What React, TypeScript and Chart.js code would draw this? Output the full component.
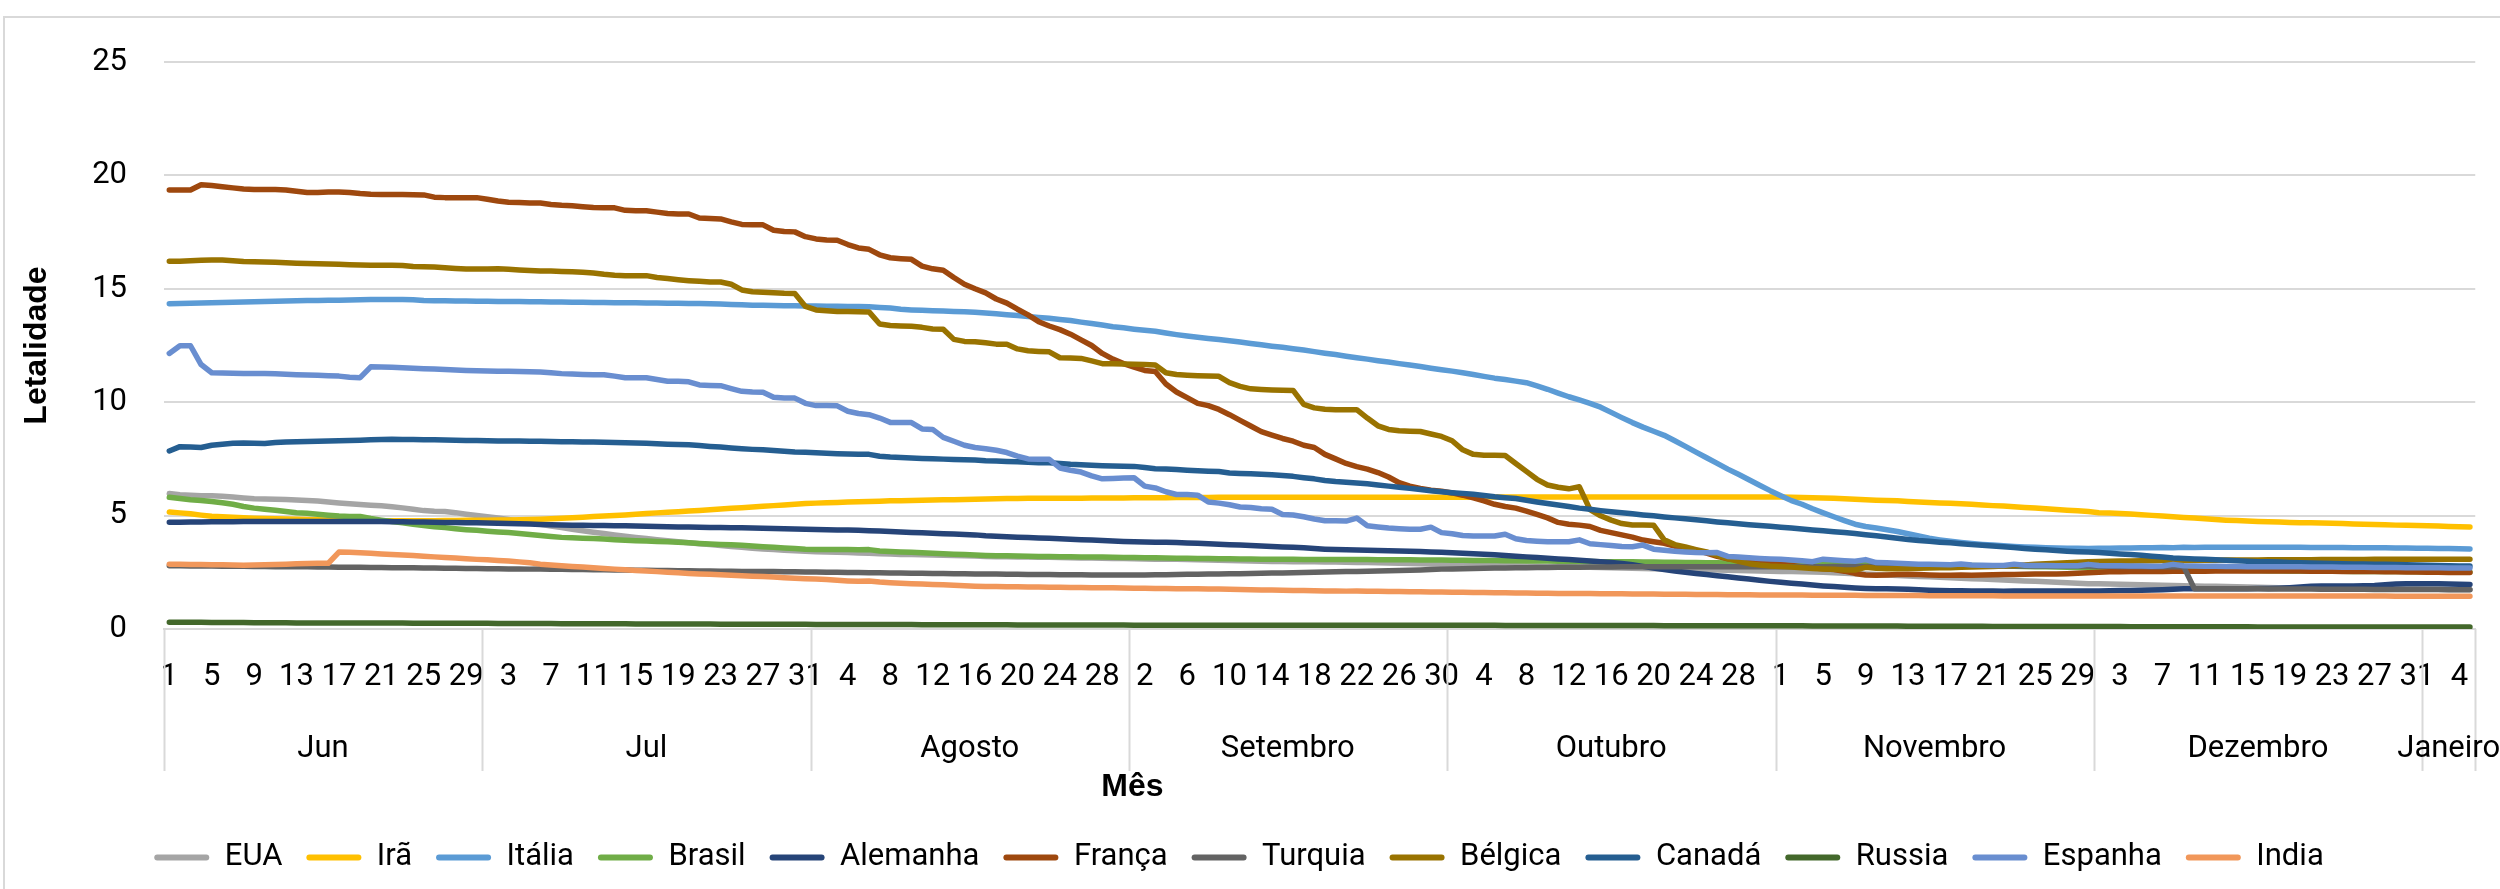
import React, { useEffect, useRef } from 'react';
import { Chart, registerables } from 'chart.js';

Chart.register(...registerables);

// ---------- DATA ----------
const months = ['Jun', 'Jul', 'Agosto', 'Setembro', 'Outubro', 'Novembro', 'Dezembro', 'Janeiro'];
const monthDays = [30, 31, 30, 30, 31, 30, 31, 5];
const yTicks = [0, 5, 10, 15, 20, 25];

const seriesNames = ['EUA', 'Irã', 'Itália', 'Brasil', 'Alemanha', 'França', 'Turquia', 'Bélgica', 'Canadá', 'Russia', 'Espanha', 'India'];
const seriesColors = ['#A5A5A5', '#FFC000', '#5B9BD5', '#70AD47', '#264478', '#9E480E', '#636363', '#997300', '#255E91', '#43682B', '#698ED0', '#F1975A'];

const eua = [
  5.97, 5.92, 5.9, 5.88, 5.87, 5.85, 5.82, 5.78, 5.74, 5.73, 5.72, 5.71, 5.69, 5.67, 5.64, 5.6, 5.56, 5.52, 5.49, 5.46, 5.43, 5.39, 5.34, 5.28, 5.22, 5.19, 5.18, 5.13, 5.06, 5.0,
  4.95, 4.89, 4.83, 4.76, 4.69, 4.62, 4.54, 4.47, 4.4, 4.33, 4.27, 4.21, 4.15, 4.09, 4.04, 3.99, 3.94, 3.89, 3.85, 3.8, 3.76, 3.72, 3.68, 3.64, 3.6, 3.56, 3.53, 3.5, 3.47, 3.45, 3.43,
  3.41, 3.4, 3.38, 3.37, 3.35, 3.34, 3.32, 3.31, 3.29, 3.28, 3.27, 3.26, 3.25, 3.24, 3.23, 3.22, 3.2, 3.19, 3.19, 3.18, 3.17, 3.16, 3.16, 3.15, 3.14, 3.13, 3.13, 3.12, 3.11, 3.11,
  3.1, 3.09, 3.08, 3.08, 3.07, 3.06, 3.05, 3.04, 3.03, 3.02, 3.01, 3.0, 2.99, 2.98, 2.98, 2.97, 2.97, 2.96, 2.95, 2.95, 2.94, 2.93, 2.93, 2.92, 2.91, 2.9, 2.89, 2.88, 2.87, 2.86,
  2.85, 2.84, 2.83, 2.82, 2.81, 2.8, 2.79, 2.78, 2.77, 2.76, 2.75, 2.74, 2.73, 2.72, 2.71, 2.7, 2.69, 2.68, 2.67, 2.66, 2.65, 2.64, 2.63, 2.62, 2.61, 2.6, 2.59, 2.58, 2.57, 2.56, 2.55,
  2.54, 2.53, 2.52, 2.51, 2.5, 2.48, 2.46, 2.44, 2.42, 2.4, 2.38, 2.36, 2.34, 2.32, 2.3, 2.28, 2.26, 2.24, 2.22, 2.2, 2.18, 2.16, 2.14, 2.12, 2.1, 2.08, 2.06, 2.04, 2.02, 2.0,
  1.99, 1.98, 1.97, 1.96, 1.95, 1.94, 1.93, 1.92, 1.91, 1.9, 1.89, 1.88, 1.87, 1.86, 1.85, 1.84, 1.83, 1.82, 1.82, 1.81, 1.81, 1.8, 1.8, 1.79, 1.79, 1.78, 1.78, 1.77, 1.77, 1.76, 1.76,
  1.75, 1.75, 1.74, 1.74, 1.74,
];

const ira = [
  5.16, 5.12, 5.08, 5.02, 4.97, 4.95, 4.93, 4.9, 4.88, 4.87, 4.86, 4.85, 4.84, 4.83, 4.82, 4.81, 4.8, 4.79, 4.78, 4.78, 4.77, 4.77, 4.77, 4.77, 4.77, 4.77, 4.78, 4.78, 4.79, 4.79,
  4.8, 4.81, 4.81, 4.82, 4.83, 4.84, 4.86, 4.88, 4.9, 4.93, 4.96, 4.98, 5.0, 5.03, 5.06, 5.09, 5.12, 5.15, 5.17, 5.2, 5.23, 5.26, 5.29, 5.32, 5.35, 5.38, 5.41, 5.44, 5.47, 5.5, 5.53,
  5.55, 5.57, 5.58, 5.6, 5.61, 5.62, 5.63, 5.65, 5.66, 5.67, 5.68, 5.69, 5.7, 5.7, 5.71, 5.72, 5.73, 5.74, 5.75, 5.75, 5.76, 5.76, 5.77, 5.77, 5.77, 5.77, 5.78, 5.78, 5.78, 5.78,
  5.79, 5.79, 5.79, 5.79, 5.8, 5.8, 5.8, 5.8, 5.81, 5.81, 5.81, 5.81, 5.81, 5.81, 5.81, 5.81, 5.81, 5.81, 5.81, 5.81, 5.81, 5.81, 5.81, 5.81, 5.81, 5.81, 5.81, 5.81, 5.81, 5.81,
  5.81, 5.81, 5.81, 5.82, 5.82, 5.82, 5.82, 5.82, 5.82, 5.82, 5.82, 5.82, 5.82, 5.82, 5.82, 5.82, 5.82, 5.82, 5.82, 5.82, 5.82, 5.82, 5.82, 5.82, 5.82, 5.82, 5.82, 5.82, 5.82, 5.82, 5.82,
  5.82, 5.81, 5.8, 5.79, 5.78, 5.76, 5.74, 5.72, 5.7, 5.68, 5.67, 5.65, 5.62, 5.6, 5.58, 5.56, 5.54, 5.52, 5.5, 5.47, 5.44, 5.42, 5.39, 5.36, 5.33, 5.3, 5.27, 5.24, 5.21, 5.18,
  5.13, 5.11, 5.09, 5.07, 5.04, 5.01, 4.98, 4.95, 4.92, 4.89, 4.86, 4.83, 4.8, 4.78, 4.76, 4.74, 4.73, 4.72, 4.7, 4.69, 4.68, 4.67, 4.66, 4.65, 4.63, 4.62, 4.61, 4.6, 4.58, 4.57, 4.56,
  4.55, 4.54, 4.52, 4.51, 4.5,
];

const italia = [
  14.34, 14.35, 14.36, 14.37, 14.39, 14.4, 14.41, 14.42, 14.43, 14.44, 14.45, 14.46, 14.47, 14.48, 14.48, 14.49, 14.5, 14.51, 14.52, 14.53, 14.53, 14.53, 14.53, 14.52, 14.48, 14.47, 14.47, 14.46, 14.46, 14.45,
  14.45, 14.44, 14.44, 14.44, 14.43, 14.43, 14.42, 14.42, 14.41, 14.41, 14.4, 14.4, 14.39, 14.39, 14.38, 14.37, 14.37, 14.36, 14.36, 14.35, 14.35, 14.34, 14.33, 14.31, 14.3, 14.28, 14.27, 14.26, 14.25, 14.25, 14.24,
  14.24, 14.23, 14.23, 14.22, 14.22, 14.21, 14.18, 14.15, 14.1, 14.07, 14.05, 14.03, 14.02, 14.0, 13.99, 13.97, 13.93, 13.9, 13.86, 13.82, 13.78, 13.74, 13.7, 13.65, 13.6, 13.53, 13.47, 13.4, 13.33, 13.28,
  13.22, 13.17, 13.13, 13.05, 12.98, 12.92, 12.86, 12.81, 12.76, 12.71, 12.65, 12.59, 12.53, 12.47, 12.42, 12.36, 12.3, 12.23, 12.16, 12.1, 12.03, 11.96, 11.9, 11.83, 11.77, 11.7, 11.64, 11.57, 11.5, 11.43,
  11.37, 11.3, 11.22, 11.14, 11.06, 11.0, 10.93, 10.86, 10.72, 10.57, 10.4, 10.24, 10.1, 9.95, 9.78, 9.55, 9.32, 9.1, 8.9, 8.72, 8.54, 8.3, 8.05, 7.8, 7.55, 7.3, 7.05, 6.82, 6.58, 6.34, 6.1,
  5.88, 5.66, 5.5, 5.3, 5.12, 4.95, 4.78, 4.62, 4.52, 4.45, 4.38, 4.3, 4.2, 4.1, 4.0, 3.93, 3.87, 3.82, 3.77, 3.73, 3.7, 3.67, 3.64, 3.62, 3.6, 3.58, 3.57, 3.56, 3.56, 3.55,
  3.56, 3.56, 3.57, 3.57, 3.58, 3.58, 3.59, 3.58, 3.6, 3.59, 3.6, 3.6, 3.6, 3.6, 3.6, 3.6, 3.6, 3.6, 3.6, 3.6, 3.59, 3.59, 3.59, 3.59, 3.58, 3.58, 3.58, 3.58, 3.57, 3.57, 3.56,
  3.56, 3.55, 3.55, 3.54, 3.53,
];

const brasil = [
  5.81, 5.75, 5.7, 5.67, 5.62, 5.57, 5.5, 5.4, 5.33, 5.28, 5.24, 5.18, 5.13, 5.1, 5.06, 5.02, 4.98, 4.96, 4.96, 4.87, 4.8, 4.74, 4.68, 4.62, 4.56, 4.51, 4.47, 4.42, 4.38, 4.35,
  4.31, 4.28, 4.25, 4.21, 4.17, 4.12, 4.08, 4.04, 4.02, 4.0, 3.99, 3.97, 3.94, 3.91, 3.89, 3.88, 3.86, 3.85, 3.83, 3.8, 3.77, 3.75, 3.73, 3.71, 3.69, 3.66, 3.63, 3.6, 3.57, 3.55, 3.52,
  3.51, 3.5, 3.5, 3.5, 3.49, 3.5, 3.44, 3.42, 3.4, 3.38, 3.36, 3.34, 3.32, 3.3, 3.28, 3.26, 3.24, 3.23, 3.23, 3.22, 3.21, 3.2, 3.2, 3.19, 3.19, 3.18, 3.17, 3.17, 3.16, 3.15,
  3.15, 3.14, 3.14, 3.13, 3.12, 3.12, 3.11, 3.11, 3.1, 3.1, 3.09, 3.09, 3.08, 3.08, 3.07, 3.07, 3.06, 3.06, 3.06, 3.06, 3.06, 3.06, 3.06, 3.05, 3.05, 3.05, 3.05, 3.04, 3.04, 3.04,
  3.03, 3.03, 3.02, 3.02, 3.02, 3.01, 3.01, 3.0, 3.0, 3.0, 2.99, 2.99, 2.98, 2.98, 2.97, 2.97, 2.96, 2.96, 2.95, 2.95, 2.94, 2.94, 2.93, 2.93, 2.92, 2.92, 2.91, 2.91, 2.9, 2.9, 2.89,
  2.89, 2.88, 2.88, 2.87, 2.87, 2.86, 2.86, 2.85, 2.85, 2.84, 2.84, 2.83, 2.83, 2.82, 2.82, 2.81, 2.81, 2.8, 2.8, 2.79, 2.78, 2.78, 2.77, 2.76, 2.75, 2.74, 2.73, 2.72, 2.71, 2.7,
  2.69, 2.68, 2.67, 2.66, 2.65, 2.64, 2.63, 2.62, 2.62, 2.61, 2.6, 2.6, 2.59, 2.59, 2.58, 2.58, 2.57, 2.57, 2.56, 2.56, 2.56, 2.55, 2.55, 2.55, 2.54, 2.54, 2.54, 2.53, 2.53, 2.53, 2.52,
  2.52, 2.52, 2.51, 2.51, 2.51,
];

const alemanha = [
  4.71, 4.71, 4.72, 4.72, 4.73, 4.73, 4.73, 4.74, 4.74, 4.74, 4.74, 4.74, 4.74, 4.74, 4.74, 4.74, 4.74, 4.74, 4.74, 4.74, 4.74, 4.73, 4.73, 4.72, 4.72, 4.71, 4.7, 4.7, 4.69, 4.68,
  4.67, 4.66, 4.65, 4.64, 4.63, 4.61, 4.6, 4.59, 4.58, 4.57, 4.56, 4.56, 4.55, 4.55, 4.54, 4.53, 4.52, 4.51, 4.5, 4.5, 4.49, 4.48, 4.47, 4.46, 4.46, 4.45, 4.44, 4.43, 4.42, 4.41, 4.4,
  4.39, 4.38, 4.37, 4.36, 4.35, 4.33, 4.32, 4.3, 4.28, 4.26, 4.24, 4.22, 4.2, 4.19, 4.17, 4.15, 4.11, 4.09, 4.07, 4.05, 4.03, 4.01, 4.0, 3.98, 3.96, 3.94, 3.92, 3.9, 3.88, 3.86,
  3.85, 3.84, 3.83, 3.82, 3.81, 3.79, 3.78, 3.76, 3.74, 3.72, 3.7, 3.68, 3.66, 3.64, 3.62, 3.6, 3.58, 3.55, 3.52, 3.5, 3.49, 3.48, 3.47, 3.46, 3.45, 3.44, 3.43, 3.42, 3.4, 3.38,
  3.36, 3.34, 3.32, 3.3, 3.27, 3.24, 3.21, 3.18, 3.15, 3.12, 3.09, 3.06, 3.03, 3.0, 2.97, 2.93, 2.89, 2.83, 2.76, 2.69, 2.62, 2.56, 2.5, 2.45, 2.4, 2.35, 2.3, 2.25, 2.2, 2.15, 2.1,
  2.06, 2.02, 1.98, 1.94, 1.9, 1.87, 1.84, 1.81, 1.79, 1.78, 1.77, 1.76, 1.75, 1.73, 1.71, 1.7, 1.69, 1.69, 1.68, 1.68, 1.68, 1.67, 1.67, 1.67, 1.67, 1.67, 1.67, 1.68, 1.68, 1.68,
  1.68, 1.69, 1.7, 1.7, 1.71, 1.72, 1.73, 1.75, 1.77, 1.78, 1.78, 1.78, 1.78, 1.78, 1.78, 1.79, 1.79, 1.8, 1.82, 1.85, 1.88, 1.9, 1.9, 1.9, 1.9, 1.91, 1.92, 1.95, 1.98, 2.0, 2.0,
  2.0, 1.99, 1.98, 1.97, 1.96,
];

const franca = [
  19.36, 19.36, 19.36, 19.59, 19.55, 19.5, 19.45, 19.4, 19.38, 19.38, 19.38, 19.36, 19.3, 19.25, 19.25, 19.27, 19.27, 19.25, 19.2, 19.17, 19.16, 19.16, 19.16, 19.15, 19.14, 19.04, 19.02, 19.02, 19.02, 19.02,
  18.95, 18.87, 18.82, 18.8, 18.78, 18.78, 18.72, 18.68, 18.66, 18.62, 18.58, 18.57, 18.57, 18.46, 18.44, 18.44, 18.38, 18.32, 18.3, 18.3, 18.12, 18.1, 18.08, 17.95, 17.84, 17.82, 17.82, 17.58, 17.53, 17.51, 17.3,
  17.2, 17.15, 17.14, 16.95, 16.8, 16.74, 16.5, 16.37, 16.33, 16.3, 16.0, 15.88, 15.82, 15.5, 15.2, 15.0, 14.82, 14.55, 14.37, 14.1, 13.85, 13.55, 13.36, 13.2, 13.0, 12.75, 12.5, 12.15, 11.9, 11.7,
  11.55, 11.4, 11.35, 10.8, 10.45, 10.2, 9.95, 9.85, 9.68, 9.45, 9.2, 8.95, 8.7, 8.55, 8.4, 8.28, 8.1, 8.0, 7.7, 7.5, 7.3, 7.16, 7.05, 6.9, 6.7, 6.45, 6.3, 6.2, 6.12, 6.07,
  6.0, 5.9, 5.78, 5.65, 5.5, 5.4, 5.33, 5.2, 5.05, 4.9, 4.7, 4.62, 4.58, 4.52, 4.35, 4.25, 4.15, 4.05, 3.92, 3.85, 3.78, 3.65, 3.55, 3.48, 3.35, 3.2, 3.1, 3.05, 3.0, 2.95, 2.9,
  2.86, 2.8, 2.75, 2.7, 2.66, 2.62, 2.55, 2.45, 2.38, 2.37, 2.38, 2.4, 2.41, 2.4, 2.38, 2.37, 2.37, 2.38, 2.37, 2.38, 2.39, 2.4, 2.4, 2.41, 2.42, 2.43, 2.43, 2.44, 2.46, 2.48,
  2.5, 2.52, 2.52, 2.53, 2.53, 2.54, 2.54, 2.55, 2.55, 2.55, 2.55, 2.56, 2.56, 2.56, 2.56, 2.56, 2.56, 2.56, 2.56, 2.56, 2.55, 2.55, 2.55, 2.54, 2.54, 2.53, 2.53, 2.52, 2.52, 2.51, 2.51,
  2.5, 2.5, 2.49, 2.49, 2.49,
];

const turquia = [
  2.79, 2.79, 2.78, 2.78, 2.78, 2.77, 2.77, 2.77, 2.76, 2.76, 2.75, 2.75, 2.74, 2.74, 2.73, 2.73, 2.72, 2.72, 2.72, 2.71, 2.71, 2.7, 2.7, 2.7, 2.69, 2.69, 2.68, 2.68, 2.67, 2.67,
  2.66, 2.66, 2.65, 2.65, 2.64, 2.64, 2.63, 2.63, 2.62, 2.62, 2.61, 2.61, 2.6, 2.6, 2.59, 2.59, 2.58, 2.58, 2.57, 2.57, 2.56, 2.56, 2.55, 2.55, 2.54, 2.54, 2.53, 2.53, 2.52, 2.52, 2.51,
  2.51, 2.5, 2.5, 2.49, 2.49, 2.48, 2.48, 2.47, 2.47, 2.46, 2.46, 2.45, 2.45, 2.44, 2.44, 2.43, 2.42, 2.42, 2.41, 2.41, 2.4, 2.4, 2.4, 2.39, 2.39, 2.39, 2.38, 2.38, 2.38, 2.38,
  2.38, 2.38, 2.39, 2.39, 2.4, 2.41, 2.41, 2.42, 2.43, 2.44, 2.44, 2.45, 2.46, 2.47, 2.47, 2.48, 2.49, 2.5, 2.51, 2.52, 2.53, 2.54, 2.55, 2.56, 2.57, 2.58, 2.59, 2.6, 2.62, 2.64,
  2.65, 2.66, 2.67, 2.68, 2.69, 2.69, 2.7, 2.7, 2.71, 2.71, 2.72, 2.72, 2.72, 2.73, 2.73, 2.73, 2.74, 2.74, 2.74, 2.74, 2.75, 2.75, 2.75, 2.75, 2.75, 2.75, 2.75, 2.75, 2.75, 2.75, 2.75,
  2.75, 2.75, 2.75, 2.75, 2.75, 2.76, 2.76, 2.76, 2.76, 2.76, 2.76, 2.77, 2.77, 2.77, 2.77, 2.77, 2.77, 2.78, 2.78, 2.78, 2.78, 2.78, 2.78, 2.78, 2.78, 2.78, 2.78, 2.78, 2.78, 2.78,
  2.77, 2.77, 2.76, 2.76, 2.76, 2.75, 2.75, 2.75, 2.75, 1.78, 1.78, 1.78, 1.77, 1.77, 1.77, 1.77, 1.76, 1.76, 1.76, 1.76, 1.76, 1.75, 1.75, 1.75, 1.75, 1.75, 1.74, 1.74, 1.74, 1.74, 1.74,
  1.74, 1.74, 1.73, 1.73, 1.73,
];

const belgica = [
  16.22, 16.22, 16.24, 16.26, 16.27, 16.27, 16.24, 16.2, 16.19, 16.18, 16.17, 16.15, 16.13, 16.12, 16.1, 16.09, 16.08, 16.06, 16.05, 16.04, 16.04, 16.04, 16.03, 15.98, 15.97, 15.96, 15.93, 15.9, 15.87, 15.87,
  15.87, 15.88, 15.86, 15.83, 15.81, 15.79, 15.78, 15.76, 15.75, 15.73, 15.7, 15.64, 15.6, 15.58, 15.58, 15.58, 15.5, 15.45, 15.4, 15.36, 15.33, 15.3, 15.3, 15.2, 14.95, 14.87, 14.85, 14.83, 14.8, 14.79, 14.22,
  14.07, 14.03, 14.0, 14.0, 13.99, 13.98, 13.45, 13.38, 13.36, 13.35, 13.3, 13.23, 13.22, 12.77, 12.68, 12.67, 12.62, 12.56, 12.56, 12.35, 12.27, 12.24, 12.22, 11.96, 11.95, 11.93, 11.82, 11.7, 11.69, 11.68,
  11.67, 11.66, 11.64, 11.3, 11.22, 11.19, 11.17, 11.15, 11.14, 10.86, 10.7, 10.59, 10.56, 10.54, 10.53, 10.52, 9.9, 9.75, 9.69, 9.67, 9.67, 9.67, 9.3, 8.96, 8.8, 8.74, 8.72, 8.71, 8.6, 8.49,
  8.3, 7.9, 7.7, 7.66, 7.66, 7.65, 7.3, 6.95, 6.6, 6.35, 6.25, 6.18, 6.27, 5.26, 4.99, 4.8, 4.65, 4.59, 4.59, 4.58, 3.93, 3.72, 3.62, 3.5, 3.4, 3.25, 3.1, 2.98, 2.88, 2.82, 2.78,
  2.76, 2.73, 2.7, 2.67, 2.65, 2.63, 2.6, 2.6, 2.72, 2.68, 2.66, 2.66, 2.67, 2.68, 2.69, 2.7, 2.7, 2.72, 2.73, 2.74, 2.76, 2.78, 2.8, 2.82, 2.85, 2.88, 2.9, 2.92, 2.94, 2.96,
  2.98, 2.99, 3.0, 3.0, 3.01, 3.01, 3.02, 3.02, 3.02, 3.03, 3.03, 3.03, 3.04, 3.04, 3.04, 3.04, 3.05, 3.05, 3.05, 3.05, 3.05, 3.06, 3.06, 3.06, 3.06, 3.06, 3.07, 3.07, 3.07, 3.07, 3.07,
  3.07, 3.07, 3.07, 3.08, 3.08,
];

const canada = [
  7.85, 8.04, 8.02, 8.0, 8.1, 8.15, 8.19, 8.2, 8.19, 8.18, 8.22, 8.25, 8.26, 8.27, 8.28, 8.29, 8.3, 8.31, 8.32, 8.34, 8.36, 8.37, 8.36, 8.35, 8.34, 8.34, 8.33, 8.32, 8.31, 8.31,
  8.3, 8.29, 8.29, 8.29, 8.28, 8.28, 8.27, 8.26, 8.26, 8.25, 8.24, 8.23, 8.22, 8.21, 8.2, 8.19, 8.17, 8.15, 8.14, 8.12, 8.09, 8.05, 8.02, 7.98, 7.95, 7.92, 7.9, 7.87, 7.84, 7.8, 7.79,
  7.77, 7.75, 7.73, 7.72, 7.71, 7.7, 7.62, 7.58, 7.56, 7.54, 7.52, 7.51, 7.49, 7.47, 7.46, 7.45, 7.42, 7.41, 7.39, 7.37, 7.35, 7.33, 7.33, 7.3, 7.26, 7.24, 7.22, 7.2, 7.19, 7.18,
  7.17, 7.12, 7.07, 7.05, 7.03, 7.0, 6.98, 6.96, 6.94, 6.88, 6.86, 6.84, 6.82, 6.8, 6.77, 6.73, 6.67, 6.62, 6.55, 6.5, 6.47, 6.44, 6.4, 6.35, 6.3, 6.25, 6.2, 6.15, 6.1, 6.05,
  6.01, 5.98, 5.94, 5.89, 5.83, 5.79, 5.75, 5.68, 5.6, 5.53, 5.47, 5.4, 5.33, 5.28, 5.22, 5.17, 5.13, 5.08, 5.03, 4.99, 4.94, 4.9, 4.86, 4.82, 4.77, 4.72, 4.68, 4.64, 4.6, 4.56, 4.53,
  4.49, 4.45, 4.41, 4.37, 4.33, 4.29, 4.25, 4.21, 4.16, 4.11, 4.06, 4.0, 3.95, 3.9, 3.87, 3.83, 3.8, 3.76, 3.72, 3.69, 3.66, 3.63, 3.59, 3.55, 3.52, 3.49, 3.46, 3.43, 3.41, 3.39,
  3.37, 3.34, 3.31, 3.28, 3.25, 3.21, 3.17, 3.13, 3.11, 3.09, 3.07, 3.05, 3.03, 3.01, 2.99, 2.97, 2.96, 2.95, 2.93, 2.92, 2.91, 2.9, 2.89, 2.88, 2.87, 2.87, 2.86, 2.85, 2.84, 2.83, 2.82,
  2.81, 2.8, 2.79, 2.78, 2.78,
];

const russia = [
  0.3, 0.3, 0.3, 0.3, 0.29, 0.29, 0.29, 0.29, 0.28, 0.28, 0.28, 0.28, 0.27, 0.27, 0.27, 0.27, 0.27, 0.26, 0.26, 0.26, 0.26, 0.26, 0.26, 0.25, 0.25, 0.25, 0.25, 0.25, 0.25, 0.25,
  0.25, 0.24, 0.24, 0.24, 0.24, 0.24, 0.24, 0.23, 0.23, 0.23, 0.23, 0.23, 0.23, 0.23, 0.22, 0.22, 0.22, 0.22, 0.22, 0.22, 0.22, 0.22, 0.21, 0.21, 0.21, 0.21, 0.21, 0.21, 0.21, 0.21, 0.21,
  0.2, 0.2, 0.2, 0.2, 0.2, 0.2, 0.2, 0.2, 0.2, 0.2, 0.19, 0.19, 0.19, 0.19, 0.19, 0.19, 0.19, 0.19, 0.19, 0.18, 0.18, 0.18, 0.18, 0.18, 0.18, 0.18, 0.18, 0.18, 0.18, 0.18,
  0.17, 0.17, 0.17, 0.17, 0.17, 0.17, 0.17, 0.17, 0.17, 0.17, 0.17, 0.17, 0.17, 0.16, 0.16, 0.16, 0.16, 0.16, 0.16, 0.16, 0.16, 0.16, 0.16, 0.16, 0.16, 0.16, 0.16, 0.16, 0.16, 0.16,
  0.16, 0.16, 0.16, 0.16, 0.16, 0.15, 0.15, 0.15, 0.15, 0.15, 0.15, 0.15, 0.15, 0.15, 0.15, 0.15, 0.15, 0.15, 0.15, 0.15, 0.14, 0.14, 0.14, 0.14, 0.14, 0.14, 0.14, 0.14, 0.14, 0.14, 0.14,
  0.14, 0.14, 0.14, 0.13, 0.13, 0.13, 0.13, 0.13, 0.13, 0.13, 0.13, 0.13, 0.12, 0.12, 0.12, 0.12, 0.12, 0.12, 0.12, 0.12, 0.11, 0.11, 0.11, 0.11, 0.11, 0.11, 0.11, 0.11, 0.11, 0.11,
  0.11, 0.11, 0.11, 0.1, 0.1, 0.1, 0.1, 0.1, 0.1, 0.1, 0.1, 0.1, 0.1, 0.1, 0.1, 0.09, 0.09, 0.09, 0.09, 0.09, 0.09, 0.09, 0.09, 0.09, 0.09, 0.09, 0.09, 0.09, 0.09, 0.09, 0.09,
  0.09, 0.09, 0.09, 0.09, 0.09,
];

const espanha = [
  12.15, 12.49, 12.49, 11.66, 11.3, 11.29, 11.28, 11.27, 11.27, 11.26, 11.25, 11.23, 11.21, 11.2, 11.19, 11.17, 11.15, 11.1, 11.08, 11.56, 11.55, 11.54, 11.52, 11.5, 11.48, 11.46, 11.44, 11.42, 11.4, 11.39,
  11.38, 11.37, 11.36, 11.35, 11.34, 11.33, 11.3, 11.26, 11.24, 11.22, 11.21, 11.21, 11.15, 11.08, 11.08, 11.08, 11.0, 10.92, 10.92, 10.9, 10.76, 10.74, 10.73, 10.6, 10.48, 10.45, 10.44, 10.22, 10.19, 10.18, 9.95,
  9.85, 9.85, 9.84, 9.6, 9.5, 9.45, 9.3, 9.11, 9.1, 9.1, 8.82, 8.8, 8.45, 8.28, 8.1, 8.0, 7.95, 7.88, 7.78, 7.62, 7.5, 7.49, 7.48, 7.1, 7.0, 6.92, 6.75, 6.62, 6.64, 6.66,
  6.67, 6.3, 6.22, 6.05, 5.93, 5.93, 5.9, 5.6, 5.55, 5.48, 5.38, 5.36, 5.3, 5.28, 5.05, 5.03, 4.95, 4.85, 4.77, 4.77, 4.76, 4.89, 4.55, 4.5, 4.45, 4.42, 4.4, 4.4, 4.49, 4.25,
  4.2, 4.12, 4.1, 4.1, 4.1, 4.18, 3.98, 3.9, 3.87, 3.85, 3.85, 3.85, 3.93, 3.76, 3.72, 3.68, 3.64, 3.63, 3.7, 3.52, 3.47, 3.43, 3.4, 3.37, 3.36, 3.37, 3.2, 3.17, 3.14, 3.11, 3.09,
  3.07, 3.04, 3.01, 2.97, 3.08, 3.04, 3.01, 2.99, 3.06, 2.93, 2.92, 2.9, 2.88, 2.86, 2.85, 2.84, 2.83, 2.87, 2.82, 2.81, 2.8, 2.8, 2.86, 2.81, 2.8, 2.8, 2.79, 2.79, 2.79, 2.85,
  2.8, 2.79, 2.79, 2.78, 2.78, 2.77, 2.78, 2.85, 2.79, 2.78, 2.77, 2.77, 2.76, 2.76, 2.75, 2.75, 2.75, 2.74, 2.74, 2.74, 2.73, 2.73, 2.73, 2.72, 2.72, 2.72, 2.71, 2.71, 2.71, 2.7, 2.7,
  2.7, 2.7, 2.69, 2.69, 2.69,
];

const india = [
  2.86, 2.85, 2.84, 2.84, 2.83, 2.83, 2.82, 2.81, 2.82, 2.83, 2.84, 2.86, 2.88, 2.89, 2.9, 2.9, 3.39, 3.38, 3.36, 3.34, 3.31, 3.28, 3.26, 3.24, 3.21, 3.18, 3.15, 3.13, 3.1, 3.07,
  3.05, 3.02, 3.0, 2.96, 2.92, 2.86, 2.82, 2.79, 2.76, 2.73, 2.7, 2.67, 2.64, 2.61, 2.58, 2.56, 2.53, 2.5, 2.48, 2.45, 2.43, 2.41, 2.39, 2.37, 2.35, 2.33, 2.31, 2.29, 2.26, 2.24, 2.22,
  2.2, 2.18, 2.15, 2.12, 2.1, 2.12, 2.07, 2.04, 2.02, 2.0, 1.98, 1.96, 1.95, 1.93, 1.91, 1.89, 1.87, 1.87, 1.86, 1.86, 1.85, 1.85, 1.84, 1.84, 1.83, 1.83, 1.82, 1.82, 1.82, 1.81,
  1.8, 1.8, 1.79, 1.79, 1.78, 1.78, 1.77, 1.76, 1.76, 1.75, 1.74, 1.73, 1.72, 1.72, 1.71, 1.7, 1.7, 1.69, 1.68, 1.68, 1.67, 1.67, 1.66, 1.66, 1.65, 1.65, 1.64, 1.64, 1.63, 1.63,
  1.62, 1.62, 1.61, 1.61, 1.6, 1.6, 1.59, 1.59, 1.58, 1.58, 1.57, 1.57, 1.56, 1.56, 1.55, 1.55, 1.55, 1.54, 1.54, 1.54, 1.53, 1.53, 1.53, 1.52, 1.52, 1.52, 1.51, 1.51, 1.51, 1.5, 1.5,
  1.5, 1.5, 1.5, 1.49, 1.49, 1.49, 1.49, 1.49, 1.48, 1.48, 1.48, 1.48, 1.48, 1.48, 1.47, 1.47, 1.47, 1.47, 1.47, 1.47, 1.47, 1.46, 1.46, 1.46, 1.46, 1.46, 1.46, 1.46, 1.46, 1.46,
  1.46, 1.46, 1.46, 1.46, 1.46, 1.46, 1.46, 1.46, 1.46, 1.46, 1.45, 1.45, 1.45, 1.45, 1.45, 1.45, 1.45, 1.45, 1.45, 1.45, 1.45, 1.45, 1.45, 1.45, 1.45, 1.45, 1.45, 1.45, 1.44, 1.44, 1.44,
  1.44, 1.44, 1.44, 1.44, 1.44,
];

const seriesValues = [eua, ira, italia, brasil, alemanha, franca, turquia, belgica, canada, russia, espanha, india];

// category table built from months/monthDays
const categories: string[] = [];
const dayOfCategory: number[] = [];
months.forEach((m, mi) => {
  for (let d = 1; d <= monthDays[mi]; d++) {
    categories.push(`${d} ${m}`);
    dayOfCategory.push(d);
  }
});

const TICK_FONT = 'Roboto';
const TITLE_FONT = '"Liberation Sans", Arial, sans-serif';

const monthAxisPlugin = {
  id: 'monthAxis',
  afterDraw(chart: any) {
    const xs = chart.scales.x;
    const area = chart.chartArea;
    const ctx = chart.ctx;
    const top = xs.top;
    const half = (xs.getPixelForValue(1) - xs.getPixelForValue(0)) / 2;
    const bounds: number[] = [xs.left];
    let acc = 0;
    monthDays.forEach((n) => {
      acc += n;
      bounds.push(acc >= categories.length ? xs.right : xs.getPixelForValue(acc) - half);
    });
    ctx.save();
    ctx.strokeStyle = '#D9D9D9';
    ctx.lineWidth = 2;
    bounds.forEach((b) => {
      ctx.beginPath();
      ctx.moveTo(Math.round(b) + 0.5, top);
      ctx.lineTo(Math.round(b) + 0.5, top + 142);
      ctx.stroke();
    });
    ctx.fillStyle = '#000';
    ctx.textAlign = 'center';
    ctx.textBaseline = 'middle';
    ctx.font = `31px ${TICK_FONT}`;
    months.forEach((m, mi) => {
      ctx.fillText(m, (bounds[mi] + bounds[mi + 1]) / 2, top + 120);
    });
    ctx.font = `bold 32px ${TITLE_FONT}`;
    ctx.fillText('Mês', area.left + 0.419 * (area.right - area.left), top + 158);
    ctx.restore();
  },
};

export default function App() {
  const canvasRef = useRef<HTMLCanvasElement | null>(null);

  useEffect(() => {
    if (!canvasRef.current) return;
    const n = seriesNames.length;
    const chart = new Chart(canvasRef.current, {
      type: 'line',
      data: {
        labels: categories,
        datasets: seriesNames.map((name, i) => ({
          label: name,
          data: seriesValues[i],
          borderColor: seriesColors[i],
          backgroundColor: seriesColors[i],
          borderWidth: 5.5,
          pointRadius: 0,
          pointHoverRadius: 0,
          tension: 0,
          fill: false,
          borderJoinStyle: 'round' as const,
          borderCapStyle: 'round' as const,
          order: n - 1 - i,
        })),
      },
      options: {
        responsive: false,
        animation: false,
        events: [],
        devicePixelRatio: 1,
        layout: { padding: { left: 0, right: 22, top: 62, bottom: 6 } },
        plugins: {
          tooltip: { enabled: false },
          title: { display: false },
          legend: {
            display: true,
            position: 'bottom',
            labels: {
              boxWidth: 55,
              boxHeight: 6,
              padding: 24,
              color: '#000',
              font: { family: TICK_FONT, size: 31 },
              sort: (a: any, b: any) => a.datasetIndex - b.datasetIndex,
              generateLabels: (chart: any) =>
                (Chart.defaults.plugins.legend.labels as any).generateLabels(chart).map((l: any) => ({
                  ...l,
                  fillStyle: seriesColors[l.datasetIndex],
                  strokeStyle: seriesColors[l.datasetIndex],
                  lineWidth: 0,
                  borderRadius: 3,
                })),
            },
          },
        },
        scales: {
          x: {
            type: 'category',
            offset: true,
            grid: { display: false, drawTicks: false },
            border: { display: true, color: '#D9D9D9', width: 2 },
            ticks: {
              autoSkip: false,
              maxRotation: 0,
              minRotation: 0,
              padding: 30,
              color: '#000',
              font: { family: TICK_FONT, size: 31 },
              callback: (_v: any, idx: number) => (idx % 4 === 0 ? String(dayOfCategory[idx]) : ''),
            },
            afterFit: (s: any) => {
              s.height = 189;
            },
          },
          y: {
            type: 'linear',
            min: yTicks[0],
            max: yTicks[yTicks.length - 1],
            afterBuildTicks: (s: any) => {
              s.ticks = yTicks.map((v) => ({ value: v }));
            },
            grid: { color: '#D9D9D9', lineWidth: 2, drawTicks: false },
            border: { display: false },
            ticks: {
              padding: 37,
              color: '#000',
              font: { family: TICK_FONT, size: 31 },
            },
            title: {
              display: true,
              text: 'Letalidade',
              color: '#000',
              font: { family: TITLE_FONT, size: 32, weight: 'bold' },
              padding: { top: 18, bottom: 0 },
            },
            afterFit: (s: any) => {
              s.width = 164;
            },
          },
        },
      },
      plugins: [monthAxisPlugin],
    } as any);
    return () => chart.destroy();
  }, []);

  return (
    <div style={{ position: 'fixed', left: 0, top: 0, width: 2500, height: 889, background: '#fff', overflow: 'hidden' }}>
      <div
        style={{
          position: 'absolute',
          left: 3,
          top: 16,
          width: 2600,
          height: 1000,
          borderLeft: '2px solid #D9D9D9',
          borderTop: '2px solid #D9D9D9',
          pointerEvents: 'none',
        }}
      />
      <canvas ref={canvasRef} width={2500} height={889} style={{ position: 'absolute', left: 0, top: 0, display: 'block' }} />
    </div>
  );
}
